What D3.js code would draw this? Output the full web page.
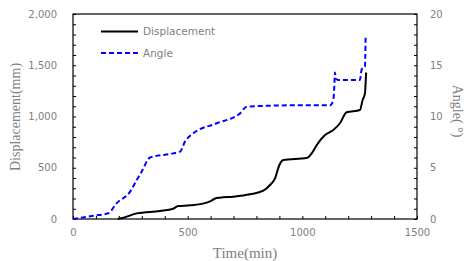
<!DOCTYPE html>
<html>
<head>
<meta charset="utf-8">
<script src="https://cdn.jsdelivr.net/npm/d3@7"></script>
<style>
  body { margin: 0; background: #fff; }
  svg { display: block; }
</style>
</head>
<body>
<script>
// displacement curve (time in min, displacement in mm)
var dispTime = [195, 220, 278, 379, 437, 459, 510, 583, 600, 620, 641, 699, 772, 830, 859, 881, 900, 917, 1019, 1041, 1063, 1099, 1135, 1164, 1193, 1251, 1263, 1273, 1278];
var dispValue = [0, 12, 55, 78, 100, 127, 133, 160, 175, 200, 208, 218, 241, 276, 332, 397, 527, 576, 595, 641, 722, 820, 868, 934, 1041, 1063, 1161, 1226, 1430];

// angle curve (time in min, angle in degrees)
var angleTime = [0, 89, 154, 190, 249, 278, 299, 336, 437, 467, 488, 525, 627, 728, 757, 990, 1121, 1135, 1140, 1142, 1146, 1157, 1251, 1259, 1273, 1276];
var angleValue = [0, 0.32, 0.56, 1.53, 2.67, 3.8, 4.6, 6.0, 6.4, 6.57, 7.54, 8.36, 9.34, 10.3, 10.96, 11.1, 11.1, 11.6, 13.2, 14.3, 13.7, 13.56, 13.56, 14.6, 14.86, 17.8];

var xTicks = [0, 500, 1000, 1500];
var leftTicks = [0, 500, 1000, 1500, 2000];
var rightTicks = [0, 5, 10, 15, 20];

var width = 467, height = 261;
// plot frame edges (note: "top" is taken by window.top)
var plotL = 73, plotR = 417, plotT = 14, plotB = 219;
var grey = '#808080';
var tickFont = '"DejaVu Sans", Verdana, sans-serif';
var titleFont = '"Liberation Serif", "Times New Roman", serif';

var svg = d3.select('body').append('svg')
	.attr('width', width)
	.attr('height', height);

var x = d3.scaleLinear().domain([0, 1500]).range([plotL, plotR]);
var yL = d3.scaleLinear().domain([0, 2000]).range([plotB, plotT]);
var yR = d3.scaleLinear().domain([0, 20]).range([plotB, plotT]);

// minor ticks inside the frame, labels outside without ticks
function styleAxis(g) {
	g.select('.domain').remove();
	g.selectAll('line').attr('stroke', '#000');
	g.selectAll('text').attr('fill', grey)
		.style('font-family', tickFont).style('font-size', '10px');
}

svg.append('g').attr('transform', 'translate(0,' + plotB + ')')
	.call(d3.axisTop(x).tickValues(d3.range(0, 1501, 100)).tickSize(3).tickFormat(''))
	.call(styleAxis);
svg.append('g').attr('transform', 'translate(' + plotL + ',0)')
	.call(d3.axisRight(yL).tickValues(d3.range(0, 2001, 100)).tickSize(3).tickFormat(''))
	.call(styleAxis);
svg.append('g').attr('transform', 'translate(' + plotR + ',0)')
	.call(d3.axisLeft(yR).tickValues(d3.range(0, 21, 1)).tickSize(3).tickFormat(''))
	.call(styleAxis);

// tick labels
svg.append('g').attr('transform', 'translate(0,' + plotB + ')')
	.call(d3.axisBottom(x).tickValues(xTicks).tickSize(0).tickPadding(10).tickFormat(d3.format('d')))
	.call(styleAxis);
svg.append('g').attr('transform', 'translate(' + plotL + ',0)')
	.call(d3.axisLeft(yL).tickValues(leftTicks).tickSize(0).tickPadding(16).tickFormat(d3.format(',')))
	.call(styleAxis);
svg.append('g').attr('transform', 'translate(' + plotR + ',0)')
	.call(d3.axisRight(yR).tickValues(rightTicks).tickSize(0).tickPadding(13).tickFormat(d3.format('d')))
	.call(styleAxis);

// frame
svg.append('rect')
	.attr('x', plotL).attr('y', plotT)
	.attr('width', plotR - plotL).attr('height', plotB - plotT)
	.attr('fill', 'none').attr('stroke', '#000').attr('stroke-width', 1.2);

// lines
var dispData = dispTime.map(function(t, i) { return [t, dispValue[i]]; });
var angleData = angleTime.map(function(t, i) { return [t, angleValue[i]]; });

svg.append('path')
	.datum(angleData)
	.attr('fill', 'none')
	.attr('stroke', '#0000ff')
	.attr('stroke-width', 2)
	.attr('stroke-dasharray', '5,3')
	.attr('d', d3.line().x(function(d) { return x(d[0]); }).y(function(d) { return yR(d[1]); }).curve(d3.curveMonotoneX));

svg.append('path')
	.datum(dispData)
	.attr('fill', 'none')
	.attr('stroke', '#000')
	.attr('stroke-width', 2)
	.attr('d', d3.line().x(function(d) { return x(d[0]); }).y(function(d) { return yL(d[1]); }).curve(d3.curveMonotoneX));

// legend
var legend = [
	{name: 'Displacement', color: '#000', dash: null, y: 31.5},
	{name: 'Angle', color: '#0000ff', dash: '5,3', y: 53}
];
legend.forEach(function(l) {
	svg.append('line')
		.attr('x1', 101).attr('x2', 138)
		.attr('y1', l.y).attr('y2', l.y)
		.attr('stroke', l.color).attr('stroke-width', 2)
		.attr('stroke-dasharray', l.dash);
	svg.append('text')
		.attr('x', 143).attr('y', l.y)
		.attr('dy', '0.35em')
		.attr('fill', grey)
		.style('font-family', tickFont).style('font-size', '10.5px')
		.text(l.name);
});

// axis titles
svg.append('text')
	.attr('transform', 'translate(20,117) rotate(-90)')
	.attr('text-anchor', 'middle')
	.attr('fill', grey)
	.style('font-family', titleFont).style('font-size', '14px')
	.text('Displacement(mm)');
svg.append('text')
	.attr('x', 245).attr('y', 258)
	.attr('text-anchor', 'middle')
	.attr('fill', grey)
	.style('font-family', titleFont).style('font-size', '15px')
	.text('Time(min)');
svg.append('text')
	.attr('transform', 'translate(453,111) rotate(90)')
	.attr('text-anchor', 'middle')
	.attr('fill', grey)
	.style('font-family', titleFont).style('font-size', '14px')
	.text('Angle( °)');
</script>
</body>
</html>
